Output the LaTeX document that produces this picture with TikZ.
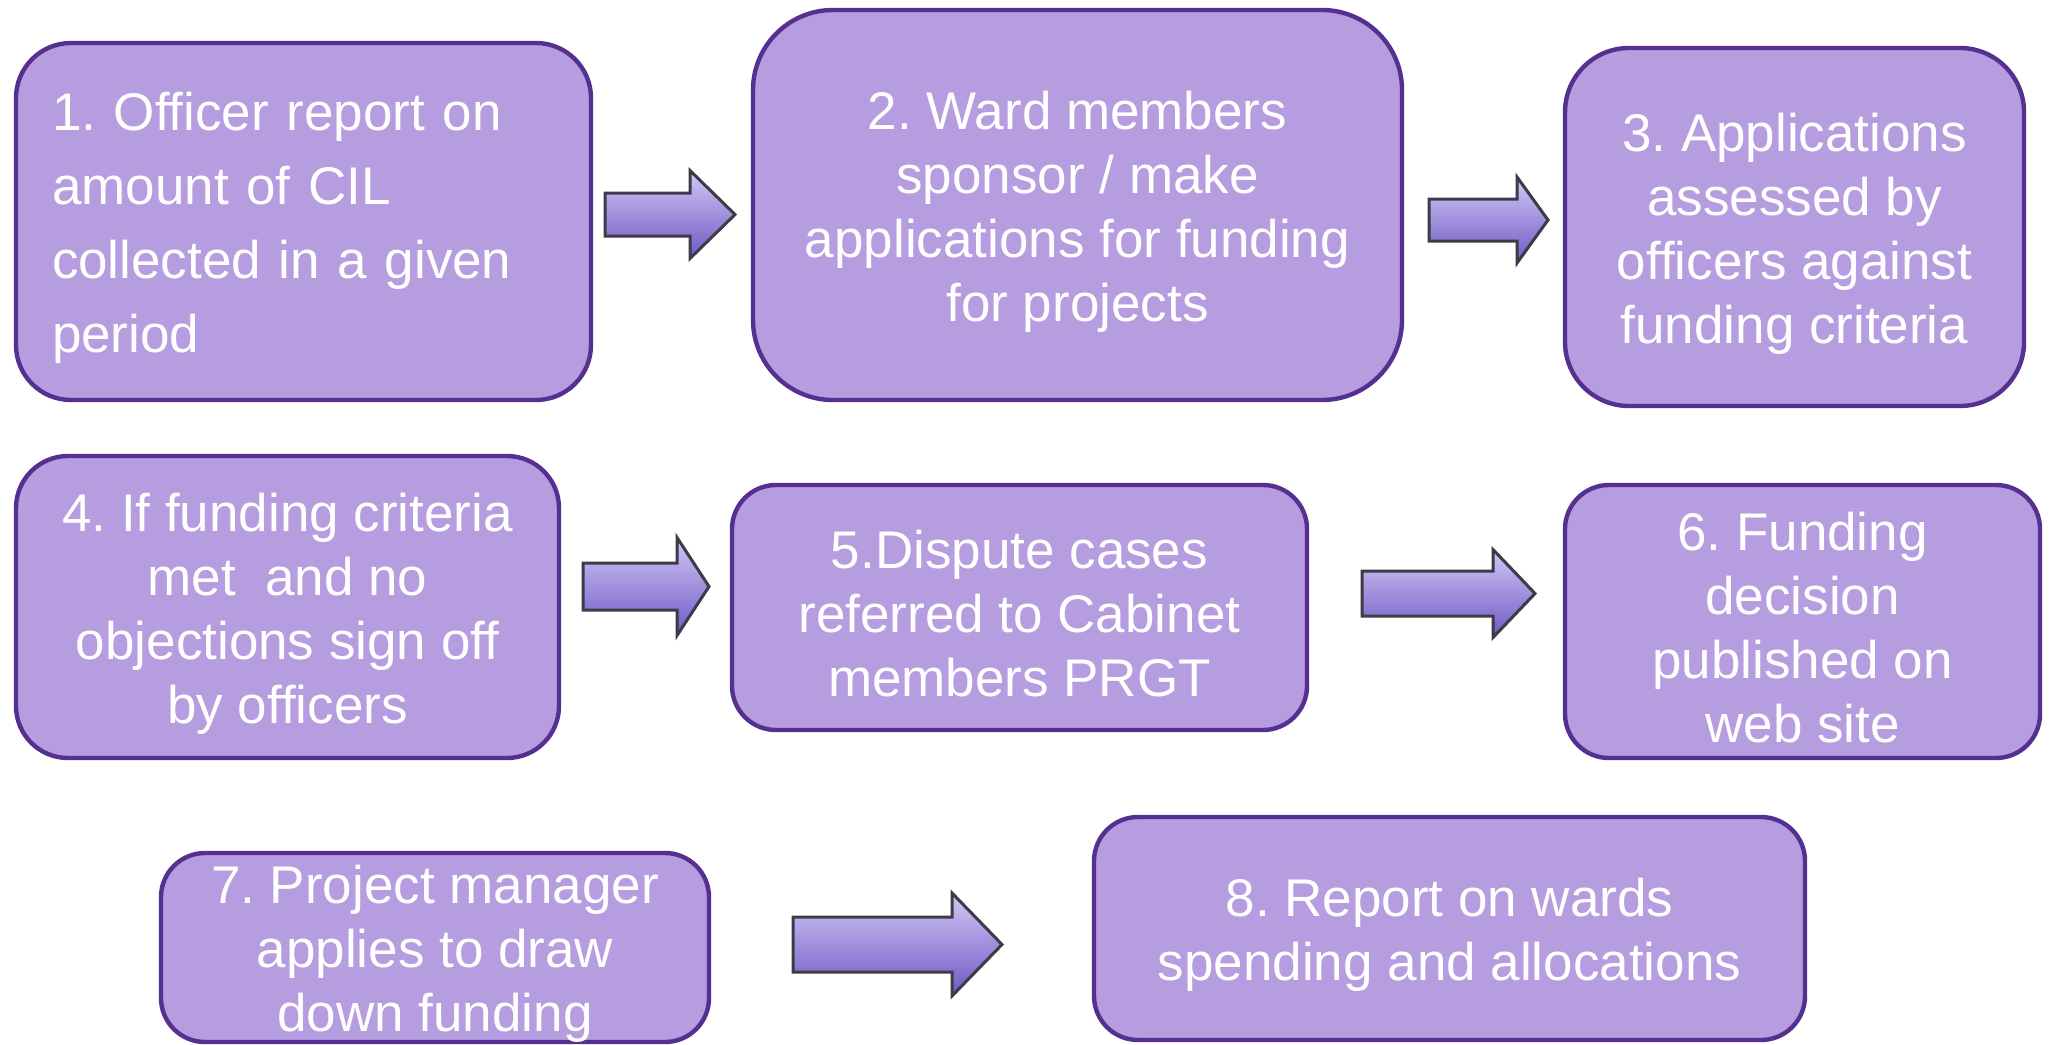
\documentclass[tikz,border=0pt]{standalone}
\usepackage{fontspec}
\setmainfont{Liberation Sans}
\frenchspacing
\definecolor{boxfill}{HTML}{B59DDF}
\definecolor{boxline}{HTML}{553090}
\definecolor{arrtop}{HTML}{D2C8F5}
\definecolor{arrbot}{HTML}{6F58C4}
\definecolor{arrline}{HTML}{3C3C48}
\tikzset{
  stepbox/.style={draw=boxline, line width=2.2pt, fill=boxfill, inner sep=0pt},
  steptext/.style={text=white, align=center, font=\fontsize{26.5}{32}\selectfont, inner sep=0pt, yshift=-3.2pt},
  blockarrow/.style={top color=arrtop, bottom color=arrbot, draw=arrline, line width=1.5pt, line join=miter}
}
\newcommand\blockarr[6]{\path[blockarrow] (#1,#4-#5) -- (#2,#4-#5) -- (#2,#4-#6) -- (#3,#4) -- (#2,#4+#6) -- (#2,#4+#5) -- (#1,#4+#5) -- cycle;}
\begin{document}
\begin{tikzpicture}[x=0.5pt,y=-0.5pt]
\useasboundingbox (0,0) rectangle (2054,1044);
\fill[white] (0,0) rectangle (2054,1044);

\node[stepbox, rounded corners=27.5pt, minimum width=287.5pt, minimum height=178.5pt] (b1) at (303.5,221.5) {};
\node[stepbox, rounded corners=40pt, minimum width=324.5pt, minimum height=195pt] (b2) at (1077.5,205) {};
\node[stepbox, rounded corners=32pt, minimum width=229.5pt, minimum height=179pt] (b3) at (1794.5,227) {};
\node[stepbox, rounded corners=26pt, minimum width=271.5pt, minimum height=151pt] (b4) at (287.5,607) {};
\node[stepbox, rounded corners=22pt, minimum width=287.5pt, minimum height=122.5pt] (b5) at (1019.5,607.5) {};
\node[stepbox, rounded corners=22pt, minimum width=237.5pt, minimum height=136.5pt] (b6) at (1802.5,621.5) {};
\node[stepbox, rounded corners=22pt, minimum width=274pt, minimum height=94.5pt] (b7) at (435,947.5) {};
\node[stepbox, rounded corners=22pt, minimum width=355.5pt, minimum height=111.5pt] (b8) at (1449.5,928.5) {};

\node[steptext, text width=251.5pt, align=left, font=\fontsize{26.5}{37}\selectfont] (t1) at (b1.center)
  {1. Officer report on\\amount of CIL\\collected in a given\\period};
\node[steptext] (t2) at (b2.center) {2. Ward members\\sponsor / make\\applications for funding\\for projects};
\node[steptext] (t3) at (b3.center) {3. Applications\\assessed by\\officers against\\funding criteria};
\node[steptext] (t4) at (b4.center) {4. If funding criteria\\met \ and no\\objections sign off\\by officers};
\node[steptext] (t5) at (b5.center) {5.Dispute cases\\referred to Cabinet\\members PRGT};
\node[steptext] (t6) at (b6.center) {6. Funding\\decision\\published on\\web site};
\node[steptext] (t7) at (b7.center) {7. Project manager\\applies to draw\\down funding};
\node[steptext] (t8) at (b8.center) {8. Report on wards\\spending and allocations};

\blockarr{605}{690}{735}{214.5}{21.5}{44}
\blockarr{1429}{1517}{1548}{220}{21}{43}
\blockarr{583}{677}{709}{586.5}{23.5}{49}
\blockarr{1362}{1493}{1535}{593.5}{22.5}{44}
\blockarr{793}{952}{1002}{944.5}{27.5}{51.5}
\end{tikzpicture}
\end{document}
